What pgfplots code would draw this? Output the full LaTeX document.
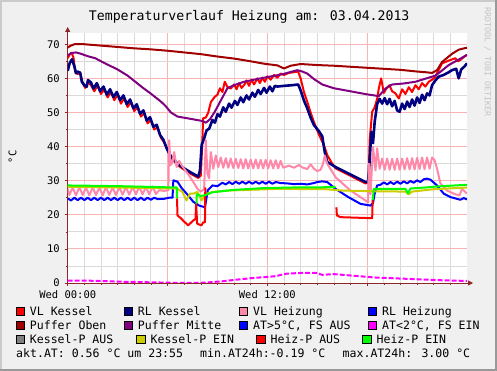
\documentclass[border=0pt]{standalone}
\usepackage{fontspec}
\setmainfont{DejaVu Sans Mono}
\usepackage{pgfplots}
\pgfplotsset{compat=1.18}
\usetikzlibrary{arrows.meta}
\definecolor{bgc}{HTML}{F0F0F0}
\definecolor{shadeA}{HTML}{CBCBCB}
\definecolor{shadeB}{HTML}{999999}
\definecolor{axiscol}{HTML}{8C2828}
\definecolor{pinkgrid}{HTML}{F6B4B4}
\definecolor{greygrid}{HTML}{DADADA}
\definecolor{cVLK}{HTML}{FF0000}
\definecolor{cRLK}{HTML}{000080}
\definecolor{cVLH}{HTML}{FF88AA}
\definecolor{cRLH}{HTML}{0000FF}
\definecolor{cPO}{HTML}{A00000}
\definecolor{cPM}{HTML}{800080}
\definecolor{cAT}{HTML}{FF00FF}
\definecolor{cKA}{HTML}{808080}
\definecolor{cKE}{HTML}{CCCC00}
\definecolor{cHA}{HTML}{FF0000}
\definecolor{cHE}{HTML}{00FF00}
\definecolor{rrdgrey}{HTML}{C4C4C4}
\newcommand{\lfont}{\fontsize{11.55}{13}\selectfont}
\newcommand{\legitem}[4]{%
  \draw[fill=#3, draw=black, line width=0.6pt] (#1,#2) rectangle ++(8.4,8.4);
  \node[anchor=base west, inner sep=0pt, font=\lfont] at ({#1+13.7},#2) {#4};}
\begin{document}
\begin{tikzpicture}[x=1pt,y=1pt]
\path[use as bounding box] (0,0) rectangle (497,371);
\fill[bgc] (0,0) rectangle (497,371);
\fill[shadeA] (0,0) rectangle (2,371);
\fill[shadeA] (0,369) rectangle (497,371);
\fill[shadeB] (495,0) rectangle (497,371);
\fill[shadeB] (0,0) rectangle (497,2);
\begin{axis}[
  at={(67.7pt,88pt)}, anchor=south west,
  scale only axis, width=399.3pt, height=250pt,
  xmin=0, xmax=24, ymin=0, ymax=73.3,
  axis x line*=bottom, axis y line*=left,
  axis background/.style={fill=white},
  x axis line style={axiscol, line width=0.8pt, -{Triangle[length=5pt,width=5pt]}, shorten >=-6pt},
  y axis line style={axiscol, line width=0.8pt, -{Triangle[length=5pt,width=5pt]}, shorten >=-6pt},
  xtick={0,6,12,18}, xticklabels={Wed 00:00,,Wed 12:00,},
  minor xtick={1,2,3,4,5,7,8,9,10,11,13,14,15,16,17,19,20,21,22,23},
  ytick={0,10,...,70}, minor ytick={5,15,...,65},
  grid=both,
  major grid style={pinkgrid, line width=0.8pt},
  minor grid style={greygrid, line width=0.8pt},
  tick style={axiscol, line width=0.6pt},
  major tick length=3pt, minor tick length=2pt, tick align=outside,
  /pgf/number format/assume math mode=true,
  yticklabel style={font=\fontsize{10.5}{12}\selectfont, anchor=east, inner sep=0pt, xshift=-4.7pt},
  xticklabel style={font=\fontsize{10.5}{12}\selectfont, anchor=north, inner sep=0pt, yshift=-4.7pt},
  every axis plot/.append style={line width=2pt, line join=round},
  clip=true,
]
% VL Kessel
\addplot[cVLK, mark=none] coordinates {(0,65.9)(0.12,67.0)(0.24,67.5)(0.35,66.0)(0.45,62.0)(0.6,61.2)(0.75,61.8)(0.9,58.6)(1.05,57.2)(1.2,58.8)(1.4,58.0)(1.6,56.2)(1.8,58.0)(2.0,55.4)(2.2,56.8)(2.4,54.4)(2.6,56.0)(2.8,53.6)(3.0,55.2)(3.2,52.6)(3.4,54.2)(3.6,51.6)(3.8,53.0)(4.0,50.4)(4.2,51.6)(4.4,48.8)(4.6,49.8)(4.8,46.8)(5.0,47.8)(5.2,45.0)(5.4,45.6)(5.6,42.6)(5.8,41.2)(6.0,39.0)(6.15,37.4)(6.35,36.0)(6.6,34.6)(7.0,33.2)(7.4,32.0)(7.85,30.8)(8.0,31.5)(8.08,40)(8.14,48.3)(8.3,48.5)(8.45,50.0)(8.6,53.0)(8.84,54.6)(9.0,55.2)(9.15,57.1)(9.3,56.0)(9.44,59.0)(9.6,57.5)(9.8,57.0)(10.0,58.2)(10.15,56.8)(10.3,58.6)(10.45,57.2)(10.6,58.0)(10.75,59.4)(10.9,57.8)(11.05,59.6)(11.2,58.2)(11.4,60.0)(11.55,58.6)(11.7,60.2)(11.85,59.0)(12.0,60.6)(12.2,59.6)(12.4,61.0)(12.6,60.2)(12.8,61.4)(13.0,61.0)(13.3,61.6)(13.6,61.8)(13.85,62.0)(14.0,60.0)(14.2,56.0)(14.4,53.1)(14.6,50.0)(14.8,47.2)(15.1,43.5)(15.4,40.4)(15.6,37.5)(15.9,35.0)(16.1,33.6)(17.0,31.4)(17.9,29.2)(18.08,29.5)(18.15,42)(18.3,50.2)(18.45,51.5)(18.6,54.0)(18.7,57.1)(18.84,60.0)(19.0,55.7)(19.15,57.0)(19.34,58.0)(19.5,56.2)(19.7,55.6)(19.9,54.1)(20.1,56.8)(20.3,55.4)(20.5,57.4)(20.7,56.0)(20.9,58.0)(21.1,56.8)(21.3,58.6)(21.5,57.6)(21.7,59.0)(21.9,59.6)(22.1,60.5)(22.3,62.5)(22.5,64.4)(22.9,65.2)(23.3,65.9)(23.45,65.0)(23.6,65.4)(23.8,66.2)(24,66.9)};
% RL Kessel
\addplot[cRLK, mark=none, line width=2.6pt] coordinates {(0,62.2)(0.12,64.5)(0.26,65.6)(0.4,63.5)(0.5,61.5)(0.6,62.0)(0.75,61.6)(0.85,59.0)(1.0,58.0)(1.14,57.5)(1.22,59.5)(1.4,58.8)(1.55,57.0)(1.75,58.6)(1.95,56.2)(2.15,57.6)(2.35,55.2)(2.55,56.8)(2.75,54.5)(2.95,56.0)(3.15,53.6)(3.35,55.0)(3.55,52.4)(3.75,53.8)(3.95,51.2)(4.15,52.4)(4.35,49.6)(4.55,50.6)(4.75,47.6)(4.95,48.6)(5.15,45.8)(5.35,46.4)(5.55,43.4)(5.75,42.0)(5.95,39.5)(6.1,38.0)(6.3,36.5)(6.6,35.0)(7.0,33.6)(7.4,32.4)(7.85,31.2)(7.95,33.0)(8.05,40.4)(8.2,42.4)(8.35,44.8)(8.5,45.2)(8.7,47.8)(8.85,47.0)(9.0,49.5)(9.15,48.8)(9.35,51.5)(9.5,50.2)(9.7,52.6)(9.85,51.4)(10.05,53.4)(10.2,52.2)(10.4,54.4)(10.55,53.0)(10.75,55.0)(10.9,53.8)(11.1,55.8)(11.25,54.6)(11.45,56.6)(11.6,55.4)(11.8,57.2)(11.95,55.8)(12.15,57.6)(12.3,56.2)(12.45,57.8)(12.6,57.6)(13.0,57.8)(13.5,58.0)(13.85,58.2)(14.0,56.5)(14.2,53.5)(14.4,51.2)(14.6,48.5)(14.8,46.3)(15.1,44.5)(15.3,43.0)(15.45,38.4)(15.6,35.5)(16.1,34.0)(17.0,31.8)(17.9,29.6)(18.05,29.6)(18.15,36)(18.25,44.3)(18.35,41)(18.45,47.2)(18.6,52.5)(18.75,54.0)(18.9,52.6)(19.05,54.2)(19.2,52.4)(19.35,54.0)(19.5,51.8)(19.65,53.4)(19.8,50.6)(19.95,50.2)(20.1,52.6)(20.25,51.0)(20.4,53.2)(20.55,51.6)(20.7,53.8)(20.85,52.0)(21.0,54.4)(21.15,52.8)(21.3,55.2)(21.45,53.6)(21.6,55.6)(21.75,55.0)(21.9,58.0)(22.1,59.4)(22.3,60.5)(22.6,61.0)(22.9,61.8)(23.1,62.4)(23.35,62.8)(23.5,60.0)(23.65,62.6)(23.85,63.5)(24,64.4)};
% VL Heizung
\addplot[cVLH, mark=none] coordinates {(0,27.6)(0.1,25.8)(0.3,28.0)(0.5,25.7)(0.7,28.1)(0.9,25.8)(1.1,28.0)(1.3,25.7)(1.5,28.0)(1.7,25.8)(1.9,28.0)(2.1,25.7)(2.3,28.1)(2.5,25.8)(2.7,28.0)(2.9,25.8)(3.1,28.1)(3.3,25.9)(3.5,28.1)(3.7,25.9)(3.9,28.2)(4.1,26.0)(4.3,28.2)(4.5,26.0)(4.7,28.2)(4.9,26.0)(5.1,28.3)(5.3,26.1)(5.5,27.2)(5.8,27.0)(6.05,27.2)(6.1,41.9)(6.18,34.5)(6.3,35.5)(6.4,38.4)(6.55,34.0)(6.7,35.8)(6.85,34.5)(7.0,33.5)(7.3,31.5)(7.6,29.2)(7.8,27.6)(8.0,26.8)(8.2,27.5)(8.3,41.9)(8.4,32.0)(8.5,30.7)(8.6,38.4)(8.75,33.5)(8.9,37.4)(9.05,34.0)(9.2,36.8)(9.35,33.8)(9.5,36.6)(9.65,33.8)(9.8,36.5)(9.95,33.7)(10.1,36.4)(10.25,33.7)(10.4,36.3)(10.55,33.6)(10.7,36.3)(10.85,33.6)(11.0,36.2)(11.15,33.6)(11.3,36.2)(11.45,33.6)(11.6,36.1)(11.75,33.6)(11.9,36.1)(12.05,33.6)(12.2,36.0)(12.35,33.6)(12.5,36.0)(12.65,33.6)(12.8,35.8)(12.95,33.8)(13.3,34.4)(13.6,33.8)(13.9,34.6)(14.1,33.9)(14.4,33.4)(14.6,34.8)(14.8,33.5)(15.0,32.8)(15.2,33.2)(15.35,35.0)(15.45,37.4)(15.6,35.0)(16.1,31.0)(17.0,27.1)(17.9,24.2)(18.05,23.6)(18.1,35.0)(18.2,26.0)(18.35,39.9)(18.5,33.0)(18.6,39.5)(18.75,33.5)(18.9,36.5)(19.05,33.2)(19.2,36.5)(19.35,33.2)(19.5,36.4)(19.65,33.2)(19.8,36.5)(19.95,33.2)(20.1,36.5)(20.25,33.3)(20.4,36.6)(20.55,33.3)(20.7,36.6)(20.85,33.3)(21.0,36.7)(21.15,33.4)(21.3,36.8)(21.45,33.4)(21.6,36.8)(21.75,33.5)(21.9,36.8)(22.05,36.0)(22.2,33.5)(22.4,29.2)(22.8,27.1)(23.3,26.0)(23.55,25.7)(23.7,27.6)(24,26.2)};
% RL Heizung
\addplot[cRLH, mark=none] coordinates {(0,24.8)(0.2,24.2)(0.4,25.0)(0.6,24.3)(0.8,25.0)(1.0,24.3)(1.2,25.0)(1.4,24.3)(1.6,25.0)(1.8,24.3)(2.0,25.0)(2.2,24.3)(2.4,25.0)(2.6,24.3)(2.8,25.0)(3.0,24.3)(3.2,25.0)(3.4,24.3)(3.6,25.0)(3.8,24.3)(4.0,25.0)(4.2,24.3)(4.4,25.0)(4.6,24.3)(4.8,25.0)(5.0,24.4)(5.2,25.0)(5.4,24.6)(5.8,24.7)(6.1,25.0)(6.3,25.0)(6.35,30.1)(6.6,29.7)(6.85,27.8)(7.15,26.2)(7.55,23.8)(7.9,22.7)(8.25,22.2)(8.42,27.2)(8.7,28.6)(9.0,28.4)(9.3,29.4)(9.5,28.9)(9.7,29.6)(9.9,29.0)(10.1,29.7)(10.3,29.1)(10.5,29.7)(10.7,29.1)(10.9,29.7)(11.1,29.1)(11.3,29.7)(11.5,29.1)(11.7,29.7)(11.9,29.1)(12.1,29.7)(12.3,29.1)(12.5,29.6)(12.8,29.3)(13.2,29.2)(13.6,29.0)(14.0,29.1)(14.4,28.9)(14.8,29.3)(15.0,29.6)(15.3,29.8)(15.6,29.6)(16.1,27.6)(16.86,25.2)(17.6,23.2)(18.2,22.7)(18.35,23.4)(18.45,26.2)(18.6,28.6)(18.8,28.8)(19.0,29.5)(19.2,28.9)(19.4,29.6)(19.6,29.0)(19.8,29.7)(20.0,29.1)(20.2,29.8)(20.4,29.2)(20.6,29.9)(20.8,29.4)(21.0,30.1)(21.2,29.6)(21.4,30.4)(21.6,30.6)(21.8,30.3)(22.2,28.6)(22.6,26.2)(23.0,25.2)(23.6,24.4)(23.8,24.9)(24,24.5)};
% Puffer Oben
\addplot[cPO, mark=none] coordinates {(0,69.0)(0.15,69.5)(0.4,70.0)(1,70.0)(2,69.6)(3,69.2)(4,68.8)(5,68.5)(6,68.1)(7,67.6)(8,67.1)(9,66.4)(10,65.8)(11,65.0)(11.8,64.3)(12.6,63.8)(13.0,62.9)(13.4,63.7)(14.0,64.2)(15,63.9)(16,63.7)(17,63.4)(18,63.1)(19,62.8)(20,62.5)(21,62.0)(21.5,61.8)(21.9,61.6)(22.2,62.4)(22.5,64.8)(22.8,66.0)(23.1,67.2)(23.5,68.4)(24,69.0)};
% Puffer Mitte
\addplot[cPM, mark=none] coordinates {(0,66.7)(0.2,67.4)(0.5,67.6)(0.8,67.2)(1.2,66.5)(1.66,65.9)(2.2,64.5)(3.0,62.6)(3.6,60.8)(4.5,57.3)(5.0,55.5)(5.6,53.2)(5.9,51.8)(6.2,50.0)(6.6,48.8)(7.3,48.2)(8.1,47.5)(8.3,47.0)(8.55,48.0)(8.84,50.2)(9.2,53.5)(9.6,57.1)(10.0,58.0)(10.6,59.0)(11.6,60.0)(12.9,61.2)(13.5,62.0)(13.8,62.4)(14.1,62.0)(14.4,61.4)(14.8,59.8)(15.3,58.2)(16.0,57.1)(17.0,56.2)(18.0,55.3)(18.7,54.8)(19.1,57.0)(19.5,58.2)(20.2,58.5)(20.9,59.0)(21.5,59.9)(22.1,60.8)(22.5,62.3)(22.9,63.9)(23.5,65.5)(24,66.9)};
% AT<2 (magenta, dashed)
\addplot[cAT, mark=none, dash pattern=on 5pt off 2pt] coordinates {(0,0.7)(1,0.7)(2,0.6)(3,0.4)(4,0.3)(5,0.2)(6,0.1)(7,0.0)(7.8,0.0)(8.5,0.2)(9.3,0.5)(10,0.9)(11,1.4)(11.5,1.6)(12.5,2.0)(13.1,2.7)(13.8,2.9)(14.4,3.0)(14.9,3.0)(15.3,2.4)(16,2.6)(16.5,2.4)(17.5,2.0)(18.5,1.6)(19.5,1.4)(20.5,1.2)(21.5,1.0)(22.5,0.8)(24,0.6)};
% Kessel-P EIN
\addplot[cKE, mark=none] coordinates {(0,28.2)(3,28.0)(6.4,27.7)(6.6,27.6)(6.9,26.7)(7.14,24.2)(7.35,26.2)(7.55,26.2)(7.8,26.7)(8.04,24.2)(8.35,26.2)(8.75,26.7)(9.6,27.1)(12.7,27.6)(15.5,27.5)(16.5,27.1)(18.4,26.9)(20.3,26.8)(20.5,26.0)(20.7,26.8)(22.0,27.5)(24,28.0)};
% Heiz-P AUS
\addplot[cHA, mark=none] coordinates {(6.57,24.8)(6.6,19.8)(6.8,19.0)(7.0,18.0)(7.24,16.9)(7.54,18.3)(7.68,18.8)(7.72,23.2)(7.78,17.4)(8.04,16.9)(8.15,17.8)(8.25,17.8)(8.27,28)};
\addplot[cHA, mark=none] coordinates {(16.15,22.2)(16.18,19.8)(16.4,19.3)(18.3,19.0)(18.33,24.4)};
% Heiz-P EIN
\addplot[cHE, mark=none] coordinates {(0,28.6)(3,28.4)(6.5,28.0)(6.56,28.0)(6.57,24.8)};
\addplot[cHE, mark=none] coordinates {(7.74,23.3)(7.76,26.0)(8.0,25.5)(8.3,25.8)(8.7,26.6)(10,27.3)(11.7,27.8)(13.5,28.0)(16.1,28.1)};
\addplot[cHE, mark=none] coordinates {(18.33,24.4)(18.4,27.6)(20.3,27.6)(20.45,26.2)(20.6,27.7)(21.5,28.0)(22.2,28.3)(24,28.8)};
\end{axis}
\node[anchor=base, inner sep=0pt, font=\fontsize{13.2}{15}\selectfont] at (249.2,350.3) {Temperaturverlauf Heizung am: 03.04.2013};
\node[rotate=90, inner sep=0pt, font=\fontsize{10.5}{12}\selectfont] at (12.5,214) {°C};
\node[rotate=-90, inner sep=0pt, text=rrdgrey, font=\fontsize{8.3}{10}\selectfont] at (487.5,309) {RRDTOOL / TOBI OETIKER};
\legitem{16}{55.4}{cVLK}{VL Kessel}
\legitem{124}{55.4}{cRLK}{RL Kessel}
\legitem{239.3}{55.4}{cVLH}{VL Heizung}
\legitem{368.3}{55.4}{cRLH}{RL Heizung}
\legitem{16}{41.6}{cPO}{Puffer Oben}
\legitem{124}{41.6}{cPM}{Puffer Mitte}
\legitem{239.3}{41.6}{cRLH}{AT>5°C, FS AUS}
\legitem{368.3}{41.6}{cAT}{AT<2°C, FS EIN}
\legitem{16}{27.7}{cKA}{Kessel-P AUS}
\legitem{136.7}{27.7}{cKE}{Kessel-P EIN}
\legitem{256.7}{27.7}{cHA}{Heiz-P AUS}
\legitem{362.7}{27.7}{cHE}{Heiz-P EIN}
\node[anchor=base west, inner sep=0pt, font=\lfont] at (16,13.8) {akt.AT: 0.56 °C um 23:55};
\node[anchor=base west, inner sep=0pt, font=\lfont] at (200,13.8) {min.AT24h:-0.19 °C};
\node[anchor=base west, inner sep=0pt, font=\lfont] at (342.5,13.8) {max.AT24h: 3.00 °C};
\end{tikzpicture}
\end{document}
